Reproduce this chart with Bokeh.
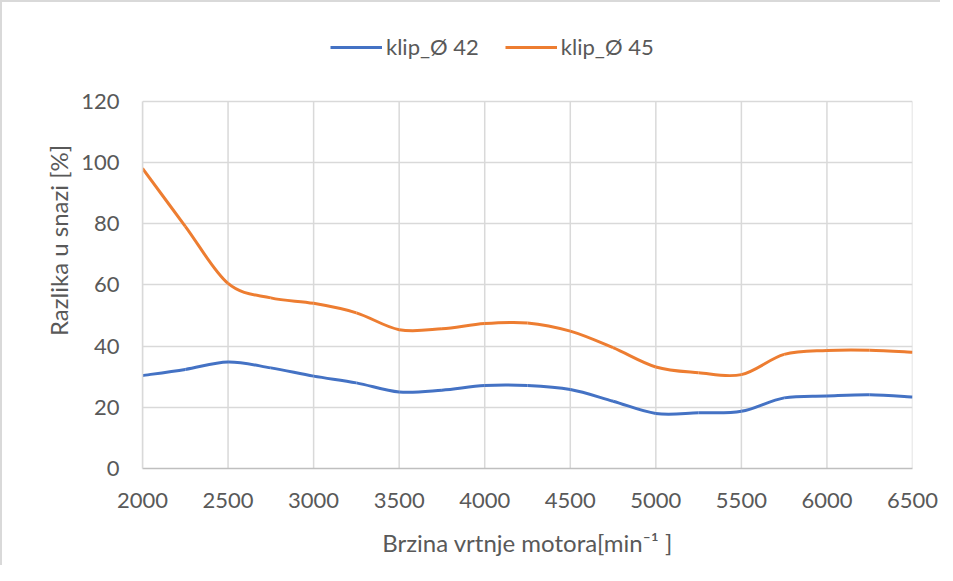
from bokeh.plotting import figure
from bokeh.models import Range1d, FixedTicker, Legend, LegendItem, ColumnDataSource
from bokeh.embed import file_html
from bokeh.resources import INLINE

# ---- data ----
rpm = [2000, 2250, 2500, 2750, 3000, 3250, 3500, 3750, 4000, 4250,
       4500, 4750, 5000, 5250, 5500, 5750, 6000, 6250, 6500]
klip_42 = [30.4, 32.4, 34.8, 32.9, 30.2, 28.0, 25.0, 25.6, 27.1, 27.1,
           25.8, 22.0, 18.0, 18.2, 18.7, 23.1, 23.7, 24.1, 23.4]
klip_45 = [98.1, 79.2, 60.5, 55.8, 54.0, 50.9, 45.4, 45.7, 47.4, 47.6,
           44.9, 39.5, 33.2, 31.3, 30.7, 37.3, 38.6, 38.7, 38.0]
series_names = ["klip_Ø 42", "klip_Ø 45"]
series_colors = ["#4472C4", "#ED7D31"]
x_ticks = [2000, 2500, 3000, 3500, 4000, 4500, 5000, 5500, 6000, 6500]
y_ticks = [0, 20, 40, 60, 80, 100, 120]

FONT = "Lato"
TXT = "#595959"
GRID = "#d9d9d9"
Y_TOP = 149.1  # extra head-room above 120 holds the legend (legend is clipped to the frame)

p = figure(width=940, height=565, output_backend="svg", toolbar_location=None,
           x_range=Range1d(2000, 6500), y_range=Range1d(0, Y_TOP),
           min_border_left=140, min_border_right=30, min_border_top=10, min_border_bottom=99)
p.styles = {"border-top": "2px solid #d9d9d9", "border-left": "2px solid #d9d9d9"}
p.outline_line_color = None
p.background_fill_color = "white"
p.border_fill_color = "white"

for ax in (p.xaxis[0], p.yaxis[0]):
    ax.major_tick_line_color = None
    ax.minor_tick_line_color = None
    ax.major_label_text_font = FONT
    ax.major_label_text_font_size = "22px"
    ax.major_label_text_color = TXT
    ax.axis_label_text_font = FONT
    ax.axis_label_text_font_size = "24px"
    ax.axis_label_text_font_style = "normal"
    ax.axis_label_text_color = TXT
    ax.axis_line_color = "#bfbfbf"
    ax.axis_line_width = 1.5

p.xaxis.ticker = FixedTicker(ticks=x_ticks)
p.yaxis.ticker = FixedTicker(ticks=y_ticks)
p.yaxis.bounds = (y_ticks[0], y_ticks[-1])
p.yaxis.axis_line_color = GRID
p.xaxis.major_label_standoff = 18
p.yaxis.major_label_standoff = 17
p.xaxis.axis_label = "Brzina vrtnje motora[min⁻¹ ]"
p.yaxis.axis_label = "Razlika u snazi [%]"
p.xaxis.axis_label_standoff = 17
p.yaxis.axis_label_standoff = 5

# horizontal grid from the y ticks; vertical grid limited to the 0..120 value band
p.ygrid.ticker = FixedTicker(ticks=y_ticks)
p.ygrid.grid_line_color = GRID
p.ygrid.grid_line_width = 1.5
p.xgrid.visible = False
p.segment(x0=x_ticks, y0=[y_ticks[0]] * len(x_ticks), x1=x_ticks,
          y1=[y_ticks[-1]] * len(x_ticks), line_color=GRID, line_width=1.5)


def smooth_segments(xs, ys, k=1.0 / 6.0):
    n = len(xs)
    x0, y0, x1, y1, cx0, cy0, cx1, cy1 = [], [], [], [], [], [], [], []
    for i in range(n - 1):
        im = max(i - 1, 0)
        ip2 = min(i + 2, n - 1)
        x0.append(xs[i]); y0.append(ys[i])
        x1.append(xs[i + 1]); y1.append(ys[i + 1])
        cx0.append(xs[i] + (xs[i + 1] - xs[im]) * k)
        cy0.append(ys[i] + (ys[i + 1] - ys[im]) * k)
        cx1.append(xs[i + 1] - (xs[ip2] - xs[i]) * k)
        cy1.append(ys[i + 1] - (ys[ip2] - ys[i]) * k)
    return dict(x0=x0, y0=y0, x1=x1, y1=y1, cx0=cx0, cy0=cy0, cx1=cx1, cy1=cy1)


items = []
for ys, name, color in zip([klip_42, klip_45], series_names, series_colors):
    src = ColumnDataSource(smooth_segments(rpm, ys))
    r = p.bezier(x0="x0", y0="y0", x1="x1", y1="y1", cx0="cx0", cy0="cy0",
                 cx1="cx1", cy1="cy1", source=src, line_color=color, line_width=3)
    items.append(LegendItem(label=name, renderers=[r]))

legend = Legend(items=items, orientation="horizontal", location=(188, 408))
legend.label_text_font = FONT
legend.label_text_font_size = "22px"
legend.label_text_color = TXT
legend.glyph_width = 52
legend.glyph_height = 20
legend.label_standoff = 4
legend.spacing = 26
legend.padding = 0
legend.margin = 0
legend.border_line_color = None
legend.background_fill_alpha = 0
p.add_layout(legend, "center")

open("out.html", "w").write(file_html(p, INLINE))
